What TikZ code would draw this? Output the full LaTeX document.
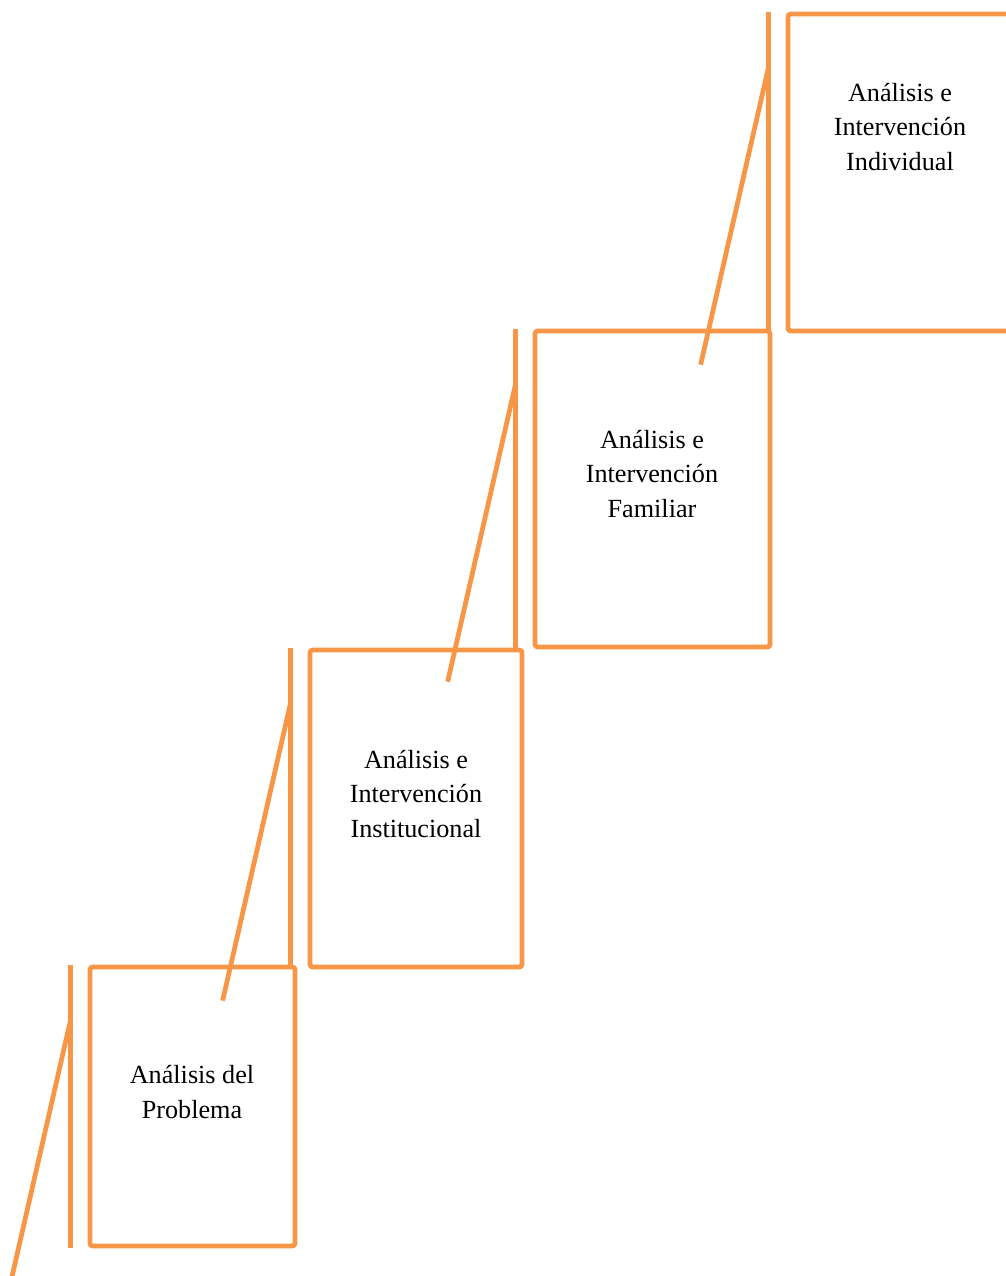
\documentclass[tikz,border=0pt]{standalone}
\usepackage{fontspec}
\setmainfont{Liberation Serif}
\usepackage{xcolor}
\definecolor{stairorange}{HTML}{F79646}

\begin{document}
\begin{tikzpicture}[x=0.02cm, y=-0.02cm,
    stage/.style={draw=stairorange, line width=2.7pt, rounded corners=1.5pt, inner sep=0pt},
    rail/.style={draw=stairorange, line width=2.7pt},
    lbl/.style={font=\fontsize{14.9}{19.9}\selectfont, text=black, align=center},
  ]
  \clip (0,0) rectangle (1006,1276);

  % stages, bottom step first
  \node[stage, minimum width=4.10cm, minimum height=5.58cm] (b1) at (192.5,1106.5) {};
  \node[stage, minimum width=4.24cm, minimum height=6.34cm] (b2) at (416,808.5) {};
  \node[stage, minimum width=4.70cm, minimum height=6.32cm] (b3) at (652.5,489) {};
  \node[stage, minimum width=4.48cm, minimum height=6.34cm] (b4) at (900,172.5) {};

  % labels
  \node[lbl] (t1) at (192,1092) {Análisis del\\Problema};
  \node[lbl] (t2) at (416,794) {Análisis e\\Intervención\\Institucional};
  \node[lbl] (t3) at (652,474) {Análisis e\\Intervención\\Familiar};
  \node[lbl] (t4) at (900,127) {Análisis e\\Intervención\\Individual};

  % rail and slanted stroke left of each stage
  \foreach \s in {1,...,4} {
    \coordinate (r\s top) at ([xshift=-0.34cm]b\s.north west);
    \coordinate (r\s bot) at ([xshift=-0.34cm]b\s.south west);
    \draw[rail] (r\s top) -- (r\s bot);
    \draw[rail] ([yshift=-1.1cm]r\s top) -- ++(-68,298);
  }
\end{tikzpicture}
\end{document}
